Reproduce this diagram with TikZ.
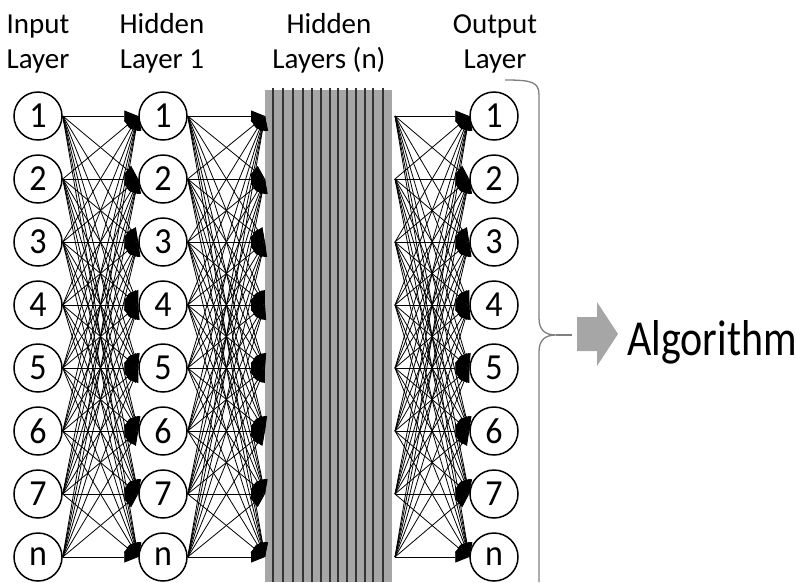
\documentclass[tikz,border=0pt]{standalone}
\usepackage{fontspec}
\usepackage{graphicx}
\setmainfont{Carlito}
\usetikzlibrary{arrows.meta}
\definecolor{blockgray}{HTML}{A6A6A6}
\definecolor{stripe}{HTML}{333333}
\definecolor{bracegray}{HTML}{7F7F7F}
\begin{document}
\begin{tikzpicture}[x=1pt,y=-1pt,
  neuron/.style={circle,draw=black,fill=white,line width=1.5pt,minimum size=48pt,inner sep=0pt,
    font=\fontsize{34}{34}\selectfont},
  conn/.style={line width=0.8pt,draw=black,-{Triangle[length=14pt,width=11pt]}},
  lab/.style={align=center,inner sep=0pt,font=\fontsize{29}{35}\selectfont},
  stripeline/.style={draw=stripe,line width=1.5pt}]
\useasboundingbox (0,0) rectangle (796,582);

% hidden layers block
\fill[blockgray] (265,90) rectangle (392,582);
\foreach \x in {273,283,293,303,312,321,330,338,347,356,365,373,383}
  \draw[stripeline] (\x,88) -- (\x,582);

% neurons
\foreach \i/\t in {1/1,2/2,3/3,4/4,5/5,6/6,7/7,8/n}{
  \pgfmathsetmacro{\yy}{116+63*(\i-1)}
  \node[neuron] (a\i) at (38,\yy) {\scalebox{1}[1.08]{\t}};
  \node[neuron] (h\i) at (163,\yy) {\scalebox{1}[1.08]{\t}};
  \node[neuron] (o\i) at (494,\yy) {\scalebox{1}[1.08]{\t}};
  \coordinate (gl\i) at (265,\yy);
  \coordinate (gr\i) at (395,\yy);
}

% connections
\foreach \i in {1,...,8}{
  \foreach \j in {1,...,8}{
    \draw[conn] (a\i.east) -- (h\j.west);
    \draw[conn] (h\i.east) -- (gl\j);
    \draw[conn] (gr\i) -- (o\j.west);
  }
}

% labels
\node[lab,anchor=base] (linput) at (38,68) {Input\\Layer};
\node[lab,anchor=base] (lhid1) at (162,68) {Hidden\\Layer 1};
\node[lab,anchor=base] (lhidn) at (329,68) {Hidden\\Layers (n)};
\node[lab,anchor=base] (lout) at (495,68) {Output\\Layer};

% brace
\coordinate (bracetip) at (556,335);
\coordinate (braceend) at (572,335);
\draw[bracegray,line width=1.3pt] (505,80) .. controls (532,80) and (539,82) .. (539,95)
  -- (539,318) .. controls (539,330) and (545,335) .. (bracetip)
  .. controls (545,335) and (539,340) .. (539,352) -- (539,582);
\draw[bracegray,line width=1.3pt] (bracetip) -- (braceend);

% block arrow
\fill[blockgray] (577,317) -- (597,317) -- (597,302) -- (618,334) -- (597,366) -- (597,351) -- (577,351) -- cycle;

% result
\node[anchor=base west,inner sep=0pt,font=\fontsize{42}{42}\selectfont] (alg) at (627,355) {\scalebox{1}[1.2]{Algorithm}};
\end{tikzpicture}
\end{document}
